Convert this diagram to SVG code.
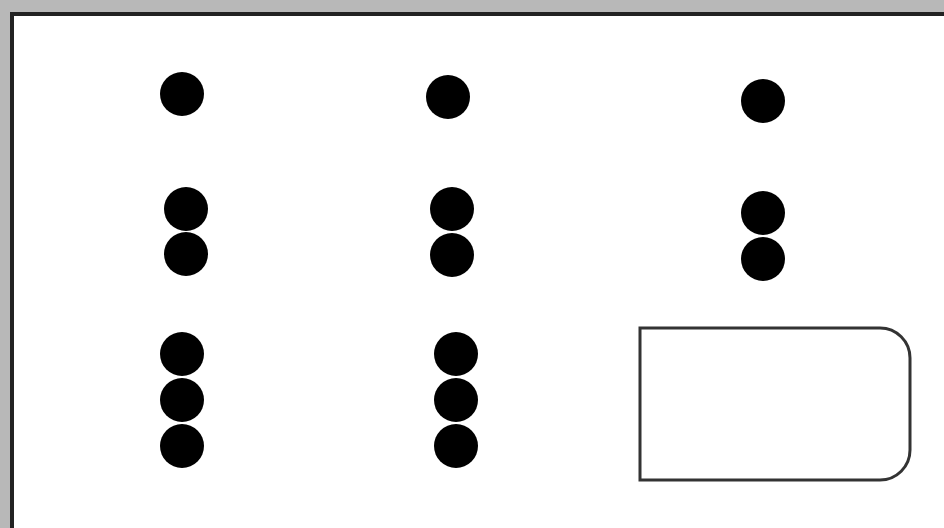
<svg xmlns="http://www.w3.org/2000/svg" width="944" height="528" viewBox="0 0 944 528">
<style>
.dot{fill:#000}
.frame{fill:none;stroke:#222;stroke-width:4}
</style>
<rect x="0" y="0" width="944" height="528" fill="#fff"/>
<g id="frame">
<rect x="0" y="0" width="944" height="12" fill="#b8b8b8"/>
<rect x="0" y="0" width="10" height="528" fill="#b8b8b8"/>
<path class="frame" d="M12 528 V14 H944"/>
</g>
<g id="col1">
<circle class="dot" cx="182" cy="94" r="22"/>
<circle class="dot" cx="186" cy="209" r="22"/>
<circle class="dot" cx="186" cy="254" r="22"/>
<circle class="dot" cx="182" cy="354" r="22"/>
<circle class="dot" cx="182" cy="400" r="22"/>
<circle class="dot" cx="182" cy="446" r="22"/>
</g>
<g id="col2">
<circle class="dot" cx="448" cy="97" r="22"/>
<circle class="dot" cx="452" cy="209" r="22"/>
<circle class="dot" cx="452" cy="255" r="22"/>
<circle class="dot" cx="456" cy="354" r="22"/>
<circle class="dot" cx="456" cy="400" r="22"/>
<circle class="dot" cx="456" cy="446" r="22"/>
</g>
<g id="col3">
<circle class="dot" cx="763" cy="101" r="22"/>
<circle class="dot" cx="763" cy="213" r="22"/>
<circle class="dot" cx="763" cy="259" r="22"/>
</g>
<g id="box">
<path d="M640 328 H880 A30 30 0 0 1 910 358 V450 A30 30 0 0 1 880 480 H640 Z" fill="#fff" stroke="#333" stroke-width="3"/>
</g>
<g id="connectors"/>
</svg>
